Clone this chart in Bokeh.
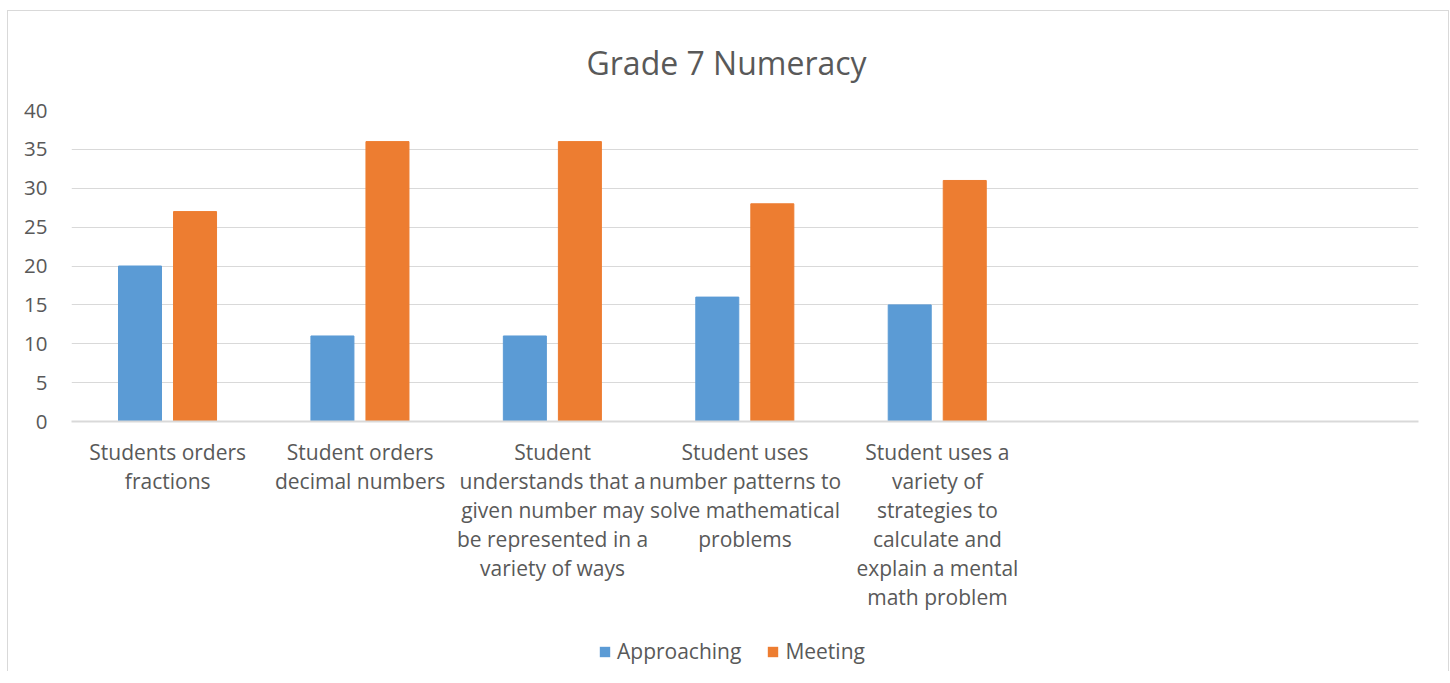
from bokeh.plotting import figure
from bokeh.layouts import column
from bokeh.models import FactorRange, Range1d, ColumnDataSource, Legend, LegendItem
from bokeh.transform import dodge
from bokeh.embed import file_html
from bokeh.resources import INLINE

categories = [
    "Students orders\nfractions",
    "Student orders\ndecimal numbers",
    "Student\nunderstands that a\ngiven number may\nbe represented in a\nvariety of ways",
    "Student uses\nnumber patterns to\nsolve mathematical\nproblems",
    "Student uses a\nvariety of\nstrategies to\ncalculate and\nexplain a mental\nmath problem",
]
empty_slots = [" ", "  "]
approaching = [20, 11, 11, 16, 15]
meeting = [27, 36, 36, 28, 31]
y_ticks = [0, 5, 10, 15, 20, 25, 30, 35, 40]
series_names = ["Approaching", "Meeting"]
series_colors = ["#5B9BD5", "#ED7D31"]

FONT = "Open Sans"
TXT = "#595959"
GRID = "#D9D9D9"

factors = categories + empty_slots
src = ColumnDataSource(dict(cat=categories, approaching=approaching, meeting=meeting))

p = figure(
    x_range=FactorRange(*factors, range_padding=0, factor_padding=0),
    y_range=Range1d(0, 40),
    width=1440, height=620,
    output_backend="svg", toolbar_location=None,
    min_border_left=63, min_border_right=30, min_border_top=98, min_border_bottom=210,
    title="Grade 7 Numeracy",
)
p.outline_line_color = None
p.background_fill_color = "white"
p.border_fill_color = "white"

p.title.align = "left"
p.title.offset = 515
p.title.standoff = 54
p.title.text_font = FONT
p.title.text_font_size = "32px"
p.title.text_font_style = "normal"
p.title.text_color = TXT

p.vbar(x=dodge("cat", -0.144, range=p.x_range), top="approaching", width=0.2235,
       source=src, color=series_colors[0])
p.vbar(x=dodge("cat", 0.142, range=p.x_range), top="meeting", width=0.2235,
       source=src, color=series_colors[1])

p.yaxis.ticker = y_ticks
p.yaxis.axis_line_color = None
p.yaxis.major_tick_line_color = None
p.yaxis.minor_tick_line_color = None
p.yaxis.major_label_standoff = 18
p.yaxis.major_label_text_font = FONT
p.yaxis.major_label_text_font_size = "20.5px"
p.yaxis.major_label_text_color = TXT

p.xaxis.axis_line_color = GRID
p.xaxis.axis_line_width = 2
p.xaxis.major_tick_line_color = None
p.xaxis.minor_tick_line_color = None
p.xaxis.major_label_standoff = 10
p.xaxis.major_label_text_font = FONT
p.xaxis.major_label_text_font_size = "21px"
p.xaxis.major_label_text_color = TXT
p.xaxis.major_label_text_line_height = 1.04
p.xaxis.major_label_orientation = "horizontal"

p.xgrid.grid_line_color = None
p.ygrid.grid_line_color = GRID
p.ygrid.grid_line_width = 1

# legend strip below the chart (zero-size swatch proxies)
pl = figure(width=1440, height=40, output_backend="svg", toolbar_location=None,
            x_range=Range1d(0, 1), y_range=Range1d(0, 1),
            min_border_left=0, min_border_right=0, min_border_top=0, min_border_bottom=0)
pl.axis.visible = False
pl.grid.visible = False
pl.outline_line_color = None
items = []
for name, col in zip(series_names, series_colors):
    r = pl.vbar(x=[0.5], top=[0], width=0, fill_color=col, line_alpha=0)
    items.append(LegendItem(label=name, renderers=[r]))
lg = Legend(items=items, location=(527, 6), orientation="horizontal",
            glyph_width=13, glyph_height=13, label_standoff=6, spacing=25,
            padding=0, margin=0, border_line_color=None, background_fill_alpha=0,
            label_text_font=FONT, label_text_font_size="21px", label_text_color=TXT)
pl.add_layout(lg)

layout = column(p, pl, spacing=0)
layout.styles = {"margin-left": "7px", "margin-top": "10px",
                 "border-left": "1px solid #D9D9D9", "border-top": "1px solid #D9D9D9",
                 "border-right": "1px solid #D9D9D9"}

open("out.html", "w").write(file_html(layout, INLINE))
